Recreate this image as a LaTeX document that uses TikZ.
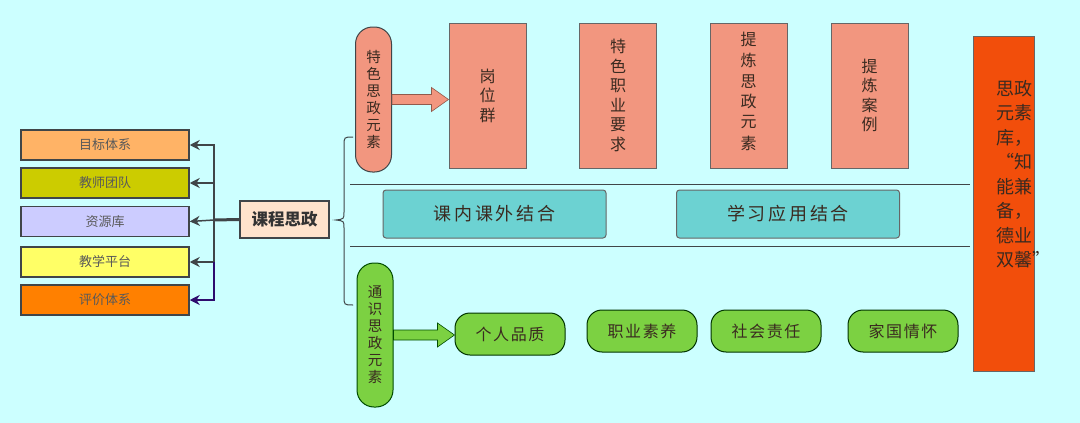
\documentclass[tikz,border=0pt]{standalone}
\usepackage{fontspec}
\setmainfont{Noto Sans CJK SC}
\newfontfamily\spacedA[LetterSpace=15]{Noto Sans CJK SC}
\newfontfamily\spacedB[LetterSpace=10]{Noto Sans CJK SC}
\usetikzlibrary{calc,arrows.meta}
\definecolor{bgc}{HTML}{CCFFFF}
\definecolor{c1}{HTML}{FFB366}
\definecolor{c2}{HTML}{CCCC00}
\definecolor{c3}{HTML}{CCCCFF}
\definecolor{c4}{HTML}{FFFF66}
\definecolor{c5}{HTML}{FF8000}
\definecolor{peach}{HTML}{FFE3CC}
\definecolor{salmon}{HTML}{F2967F}
\definecolor{tealc}{HTML}{6CD2D2}
\definecolor{greenc}{HTML}{7CD142}
\definecolor{redc}{HTML}{F24E0B}
\definecolor{darkc}{HTML}{404548}
\definecolor{purp}{HTML}{2E0B6E}
\definecolor{txt}{HTML}{3A2A20}
\tikzset{
  lbox/.style={draw=darkc, line width=1.5pt, minimum width=168pt, minimum height=30pt, inner sep=0pt,
    font=\fontsize{13}{15}\selectfont, text=black!65},
  arr/.style={draw=darkc, line width=1.5pt, -{Stealth[length=10pt,width=10pt]}},
  pill/.style={draw=darkc, line width=1pt, rounded corners=17pt, minimum width=36pt, inner sep=0pt,
    font=\fontsize{14.5}{17}\selectfont, text=txt, align=center},
  sbox/.style={draw=black!60, line width=1pt, fill=salmon, minimum width=77pt, minimum height=145pt, inner sep=0pt,
    font=\fontsize{16}{19.5}\selectfont, text=txt, align=center},
  tbox/.style={draw=black!60, line width=1pt, fill=tealc, rounded corners=3pt, minimum width=223pt, minimum height=48pt,
    inner sep=0pt, font=\spacedA\fontsize{18}{20}\selectfont, text=txt},
  gbox/.style={draw=black!60!green!50!black, line width=1pt, fill=greenc, rounded corners=15pt, minimum width=110pt,
    minimum height=42pt, inner sep=0pt, font=\spacedB\fontsize{16}{18}\selectfont, text=txt},
  sep/.style={draw=darkc, line width=1pt},
}
\begin{document}
\begin{tikzpicture}[x=1pt,y=-1pt]
\fill[bgc] (0,0) rectangle (1080,423);
\useasboundingbox (0,0) rectangle (1080,423);

% left boxes
\node[lbox, fill=c1] (a1) at (105,145) {目标体系};
\node[lbox, fill=c2] (a2) at (105,183) {教师团队};
\node[lbox, fill=c3] (a3) at (105,221.5) {资源库};
\node[lbox, fill=c4] (a4) at (105,262) {教学平台};
\node[lbox, fill=c5] (a5) at (105,300) {评价体系};

% central node
\node[draw=darkc, line width=1.5pt, fill=peach, minimum width=89pt, minimum height=37pt, inner sep=0pt,
  font=\bfseries\fontsize{16.5}{18}\selectfont, text=black!80] (kc) at (284.5,219.5) {课程思政};
\coordinate (j) at (214,220);
\coordinate (j4) at (j |- a4.east);
\draw[darkc, line width=3pt] (kc.west) -- (j);
\draw[arr] (j) |- (a1.east);
\draw[arr] (j) |- (a2.east);
\draw[arr] (j) -- (a3.east);
\draw[arr] (j) |- (a4.east);
\draw[arr, draw=purp] (j4) |- (a5.east);

% brace
\draw[darkc, line width=1pt] (353,137) .. controls (344,137) .. (344,146) -- (344,212)
  .. controls (344,219) .. (336,220) .. controls (344,221) .. (344,228) -- (344,296)
  .. controls (344,305) .. (353,305);

% separator lines
\draw[sep] (350,184) -- (970,184);
\draw[sep] (350,246) -- (970,246);

% top row
\node[pill, fill=salmon, minimum height=145pt] (t1) at (373.5,99.5) {特\\色\\思\\政\\元\\素};
\node[sbox] (b1) at (487.5,95.5) {岗\\位\\群};
\node[sbox] (b2) at (618,95.5) {特\\色\\职\\业\\要\\求};
\node[sbox] (b3) at (748.5,95.5) {\raisebox{10pt}{\shortstack{提\\[3.5pt]炼\\[3.5pt]思\\[3.5pt]政\\[3.5pt]元\\[3.5pt]素}}};
\node[sbox] (b4) at (869.5,95.5) {提\\炼\\案\\例};
\coordinate (tip1) at (b1.west |- t1.east);
\filldraw[fill=salmon, draw=salmon!60!black, line width=0.6pt]
  ($(t1.east)+(0,-5)$) -- ($(tip1)+(-17,-5)$) -- ($(tip1)+(-17,-12)$) -- (tip1)
  -- ($(tip1)+(-17,12)$) -- ($(tip1)+(-17,5)$) -- ($(t1.east)+(0,5)$) -- cycle;

% middle row
\node[tbox] (m1) at (494.5,214) {课内课外结合};
\node[tbox] (m2) at (788,214) {学习应用结合};

% bottom row
\node[pill, fill=greenc, draw=green!30!black, minimum height=144pt] (t2) at (375,335) {通\\识\\思\\政\\元\\素};
\node[gbox] (g1) at (510,334) {个人品质};
\node[gbox] (g2) at (642,331) {职业素养};
\node[gbox] (g3) at (766,331) {社会责任};
\node[gbox] (g4) at (903,331) {家国情怀};
\coordinate (tip2) at (g1.west |- t2.east);
\filldraw[fill=greenc, draw=green!30!black, line width=0.6pt]
  ($(t2.east)+(0,-5)$) -- ($(tip2)+(-17,-5)$) -- ($(tip2)+(-17,-12)$) -- (tip2)
  -- ($(tip2)+(-17,12)$) -- ($(tip2)+(-17,5)$) -- ($(t2.east)+(0,5)$) -- cycle;

% right box
\node[draw=black!60, line width=1pt, fill=redc, minimum width=61pt, minimum height=335pt, inner sep=0pt] (r) at (1003.5,203.5) {};
\node[font=\fontsize{18}{24.5}\selectfont, text=txt, align=left, anchor=north west, inner sep=0pt] (rt) at (996,80)
  {思政\\元素\\库，\\\makebox[1em][r]{“}知\\能兼\\备，\\德业\\双馨\makebox[0.5em][l]{”}};
\end{tikzpicture}
\end{document}
